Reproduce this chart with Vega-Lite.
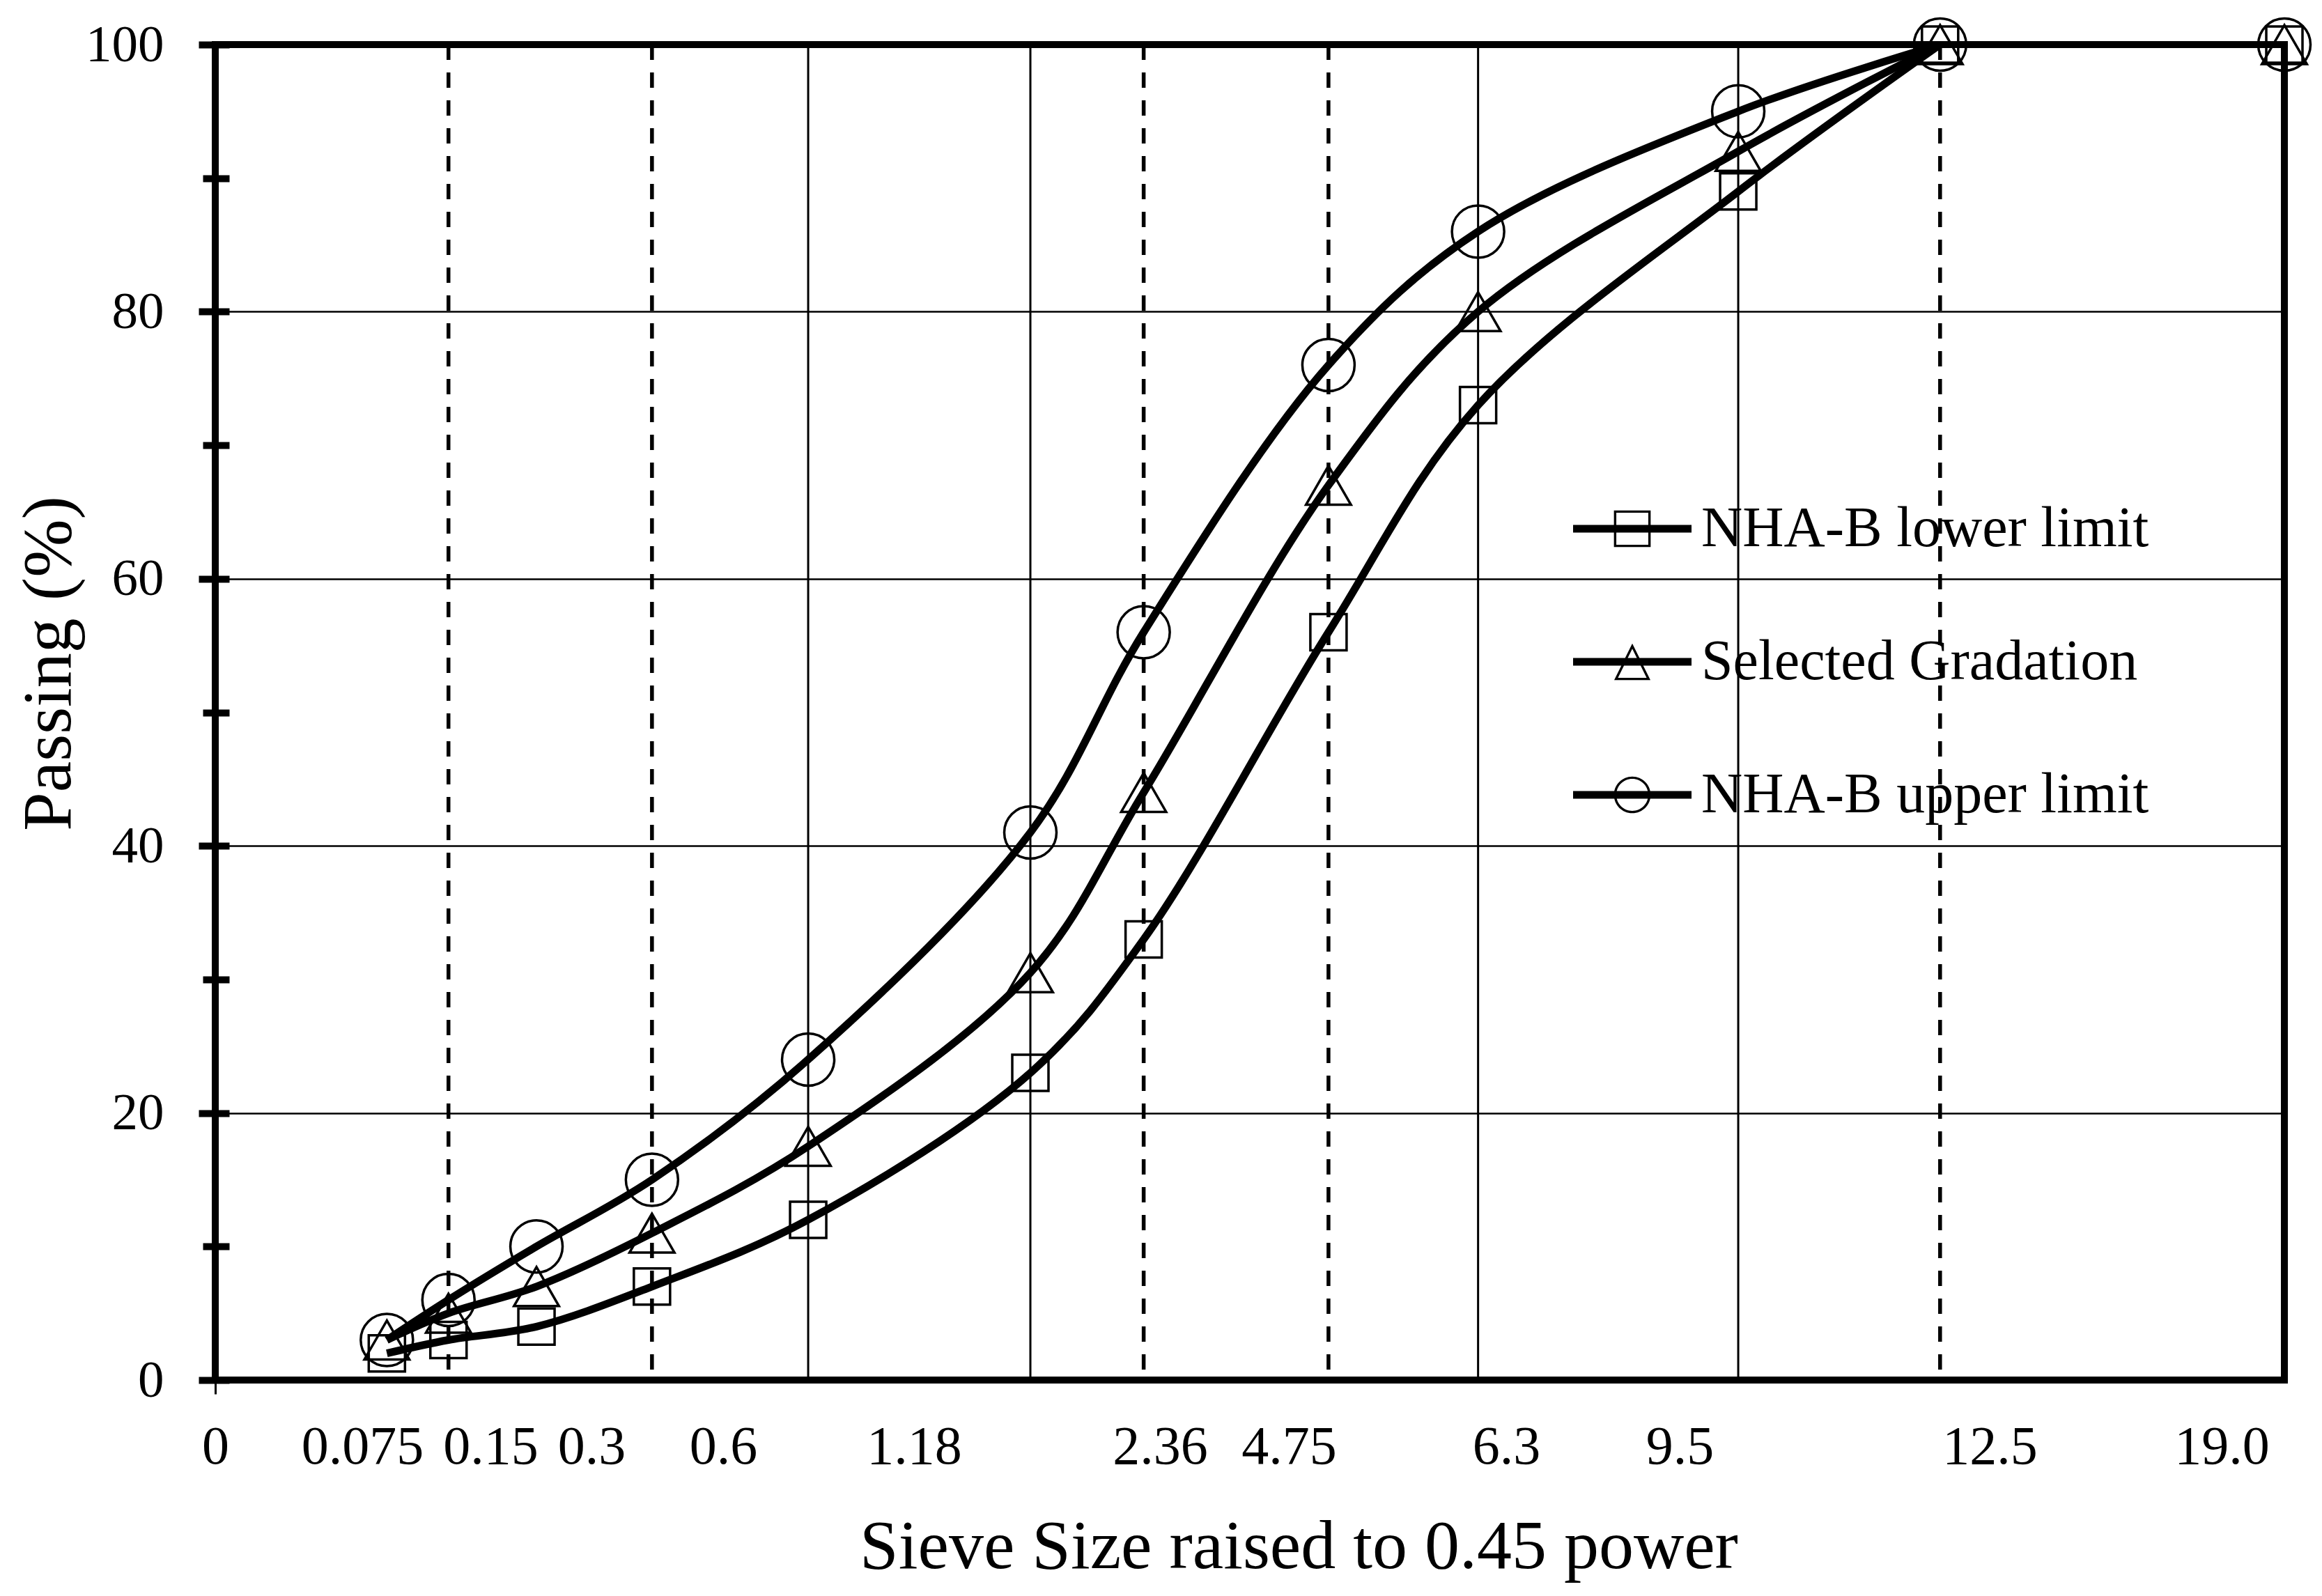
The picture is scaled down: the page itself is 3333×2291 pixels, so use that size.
{
  "$schema": "https://vega.github.io/schema/vega-lite/v6.json",
  "width": 2970,
  "height": 1917,
  "autosize": {"type": "none"},
  "padding": {"left": 309, "top": 64, "right": 54, "bottom": 310},
  "background": "white",
  "config": {
    "view": {"stroke": "black", "strokeWidth": 10},
    "font": "Liberation Serif",
    "axis": {"labelFont": "Liberation Serif", "titleFont": "Liberation Serif", "labelColor": "black", "titleColor": "black", "titleFontWeight": "normal", "domain": false, "tickColor": "black", "gridColor": "black"}
  },
  "datasets": {
    "pts": [
      {"series": "NHA-B lower limit", "x": 0.312, "y": 2},
      {"series": "NHA-B lower limit", "x": 0.424, "y": 3},
      {"series": "NHA-B lower limit", "x": 0.584, "y": 4},
      {"series": "NHA-B lower limit", "x": 0.794, "y": 7},
      {"series": "NHA-B lower limit", "x": 1.078, "y": 12},
      {"series": "NHA-B lower limit", "x": 1.482, "y": 23},
      {"series": "NHA-B lower limit", "x": 1.688, "y": 33},
      {"series": "NHA-B lower limit", "x": 2.024, "y": 56},
      {"series": "NHA-B lower limit", "x": 2.296, "y": 73},
      {"series": "NHA-B lower limit", "x": 2.769, "y": 89},
      {"series": "NHA-B lower limit", "x": 3.136, "y": 100},
      {"series": "NHA-B lower limit", "x": 3.762, "y": 100},
      {"series": "Selected Gradation", "x": 0.312, "y": 3},
      {"series": "Selected Gradation", "x": 0.424, "y": 5},
      {"series": "Selected Gradation", "x": 0.584, "y": 7},
      {"series": "Selected Gradation", "x": 0.794, "y": 11},
      {"series": "Selected Gradation", "x": 1.078, "y": 17.5},
      {"series": "Selected Gradation", "x": 1.482, "y": 30.5},
      {"series": "Selected Gradation", "x": 1.688, "y": 44},
      {"series": "Selected Gradation", "x": 2.024, "y": 67},
      {"series": "Selected Gradation", "x": 2.296, "y": 80},
      {"series": "Selected Gradation", "x": 2.769, "y": 92},
      {"series": "Selected Gradation", "x": 3.136, "y": 100},
      {"series": "Selected Gradation", "x": 3.762, "y": 100},
      {"series": "NHA-B upper limit", "x": 0.312, "y": 3},
      {"series": "NHA-B upper limit", "x": 0.424, "y": 6},
      {"series": "NHA-B upper limit", "x": 0.584, "y": 10},
      {"series": "NHA-B upper limit", "x": 0.794, "y": 15},
      {"series": "NHA-B upper limit", "x": 1.078, "y": 24},
      {"series": "NHA-B upper limit", "x": 1.482, "y": 41},
      {"series": "NHA-B upper limit", "x": 1.688, "y": 56},
      {"series": "NHA-B upper limit", "x": 2.024, "y": 76},
      {"series": "NHA-B upper limit", "x": 2.296, "y": 86},
      {"series": "NHA-B upper limit", "x": 2.769, "y": 95},
      {"series": "NHA-B upper limit", "x": 3.136, "y": 100},
      {"series": "NHA-B upper limit", "x": 3.762, "y": 100}
    ],
    "grid": [
      {"x": 1.078, "kind": "solid"},
      {"x": 1.482, "kind": "solid"},
      {"x": 2.296, "kind": "solid"},
      {"x": 2.769, "kind": "solid"},
      {"x": 0.424, "kind": "dashed"},
      {"x": 0.794, "kind": "dashed"},
      {"x": 1.688, "kind": "dashed"},
      {"x": 2.024, "kind": "dashed"},
      {"x": 3.136, "kind": "dashed"}
    ]
  },
  "layer": [
    {
      "data": {"name": "grid"},
      "transform": [{"filter": "datum.kind === 'solid'"}],
      "mark": {"type": "rule", "color": "black", "strokeWidth": 3},
      "encoding": {
        "x": {"field": "x", "type": "quantitative", "scale": {"domain": [0, 3.762], "nice": false, "zero": true}, "axis": null}
      }
    },
    {
      "data": {"name": "grid"},
      "transform": [{"filter": "datum.kind === 'dashed'"}],
      "mark": {"type": "rule", "color": "black", "strokeWidth": 5.5, "strokeDash": [22, 18]},
      "encoding": {
        "x": {"field": "x", "type": "quantitative", "axis": null}
      }
    },
    {
      "data": {"name": "pts"},
      "transform": [{"filter": "datum.x < 3.5"}],
      "mark": {"type": "line", "color": "black", "strokeWidth": 11, "interpolate": "catmull-rom", "clip": true},
      "encoding": {
        "x": {
          "field": "x", "type": "quantitative",
          "axis": {
            "values": [0, 0.2673, 0.5003, 0.684, 0.9233, 1.2705, 1.7175, 1.9518, 2.347, 2.6624, 3.2261, 3.648],
            "labelExpr": "datum.value < 0.1 ? '0' : datum.value < 0.4 ? '0.075' : datum.value < 0.6 ? '0.15' : datum.value < 0.8 ? '0.3' : datum.value < 1.1 ? '0.6' : datum.value < 1.5 ? '1.18' : datum.value < 1.85 ? '2.36' : datum.value < 2.2 ? '4.75' : datum.value < 2.5 ? '6.3' : datum.value < 3 ? '9.5' : datum.value < 3.4 ? '12.5' : '19.0'",
            "grid": false,
            "tickSize": 20,
            "tickWidth": 3,
            "tickOpacity": {"condition": {"test": "datum.value === 0", "value": 1}, "value": 0},
            "labelFontSize": 78,
            "labelPadding": 99,
            "labelBaseline": "alphabetic",
            "labelAlign": "center",
            "labelFlush": false,
            "labelOverlap": false,
            "labelBound": false,
            "title": "Sieve Size raised to 0.45 power",
            "titleFontSize": 100,
            "titleX": 1555,
            "titleY": 269,
            "titleAlign": "center",
            "titleBaseline": "alphabetic"
          }
        },
        "y": {
          "field": "y", "type": "quantitative",
          "scale": {"domain": [0, 100], "nice": false},
          "axis": {
            "orient": "left",
            "values": [0, 20, 40, 60, 80, 100],
            "grid": true,
            "gridWidth": 2.5,
            "tickSize": 24,
            "tickWidth": 10,
            "labelFontSize": 75,
            "labelPadding": 50,
            "title": "Passing (%)",
            "titleFontSize": 100,
            "titleX": -209,
            "titleY": 888,
            "titleAngle": 270,
            "titleAlign": "center",
            "titleBaseline": "alphabetic"
          }
        },
        "detail": {"field": "series", "type": "nominal"}
      }
    },
    {
      "data": {"name": "pts"},
      "mark": {"type": "point", "filled": false, "color": "black", "strokeWidth": 3.5, "opacity": 1},
      "encoding": {
        "x": {"field": "x", "type": "quantitative", "axis": null},
        "y": {
          "field": "y", "type": "quantitative",
          "axis": {"orient": "left", "values": [0, 10, 20, 30, 40, 50, 60, 70, 80, 90, 100], "tickSize": -20, "tickWidth": 10, "labels": false, "grid": false, "title": null}
        },
        "shape": {
          "field": "series", "type": "nominal",
          "scale": {"domain": ["NHA-B lower limit", "Selected Gradation", "NHA-B upper limit"], "range": ["square", "triangle-up", "circle"]},
          "legend": null
        },
        "size": {
          "field": "series", "type": "nominal",
          "scale": {"domain": ["NHA-B lower limit", "Selected Gradation", "NHA-B upper limit"], "range": [2704, 5625, 5929]},
          "legend": null
        }
      }
    },
    {
      "data": {"name": "pts"},
      "transform": [{"filter": "datum.y > 1000"}],
      "mark": {"type": "point", "filled": true, "color": "black"},
      "encoding": {
        "x": {"field": "x", "type": "quantitative", "axis": null},
        "y": {
          "field": "y", "type": "quantitative",
          "axis": {"orient": "left", "values": [10, 30, 50, 70, 90], "tickSize": 18, "tickWidth": 10, "labels": false, "grid": false, "title": null}
        },
        "shape": {
          "field": "series", "type": "nominal",
          "scale": {
            "domain": ["NHA-B lower limit", "Selected Gradation", "NHA-B upper limit"],
            "range": [
              "M-1,-0.065H1V0.065H-1Z M-0.31,-0.31H0.31V0.31H-0.31Z M-0.27,-0.27V0.27H0.27V-0.27Z",
              "M-1,-0.065H1V0.065H-1Z M0,-0.31L0.306,0.31L-0.306,0.31Z M0,-0.22L-0.242,0.27L0.242,0.27Z",
              "M-1,-0.065H1V0.065H-1Z M-0.31,0A0.31,0.31,0,1,1,0.31,0A0.31,0.31,0,1,1,-0.31,0Z M-0.27,0A0.27,0.27,0,1,0,0.27,0A0.27,0.27,0,1,0,-0.27,0Z"
            ]
          },
          "legend": {
            "orient": "none",
            "legendX": 1949,
            "legendY": 610,
            "padding": 0,
            "title": null,
            "symbolSize": 28900,
            "symbolFillColor": "black",
            "symbolStrokeWidth": 0,
            "symbolOpacity": 1,
            "labelFont": "Liberation Serif",
            "labelFontSize": 82,
            "labelColor": "black",
            "labelOffset": 14,
            "labelLimit": 0,
            "rowPadding": 65
          }
        }
      }
    }
  ],
  "resolve": {"scale": {"shape": "independent", "size": "independent"}, "axis": {"x": "independent", "y": "independent"}}
}
